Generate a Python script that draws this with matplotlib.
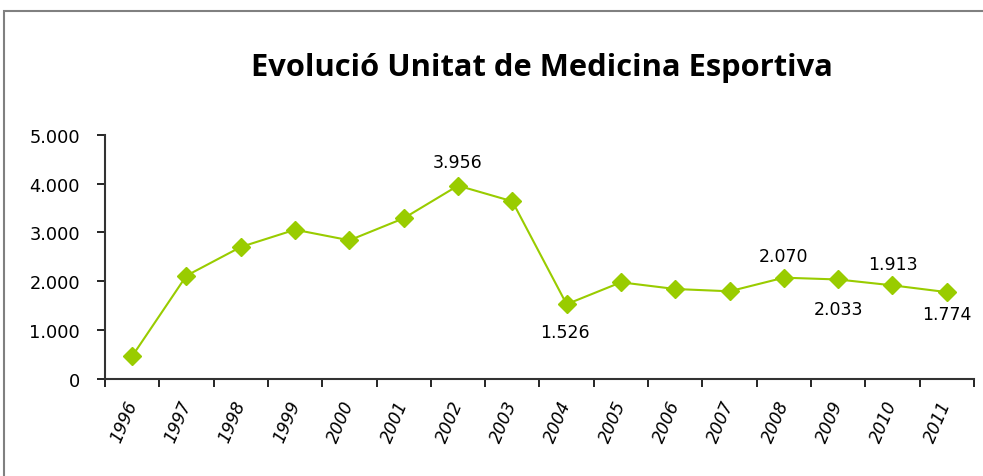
import matplotlib.pyplot as plt
from matplotlib.patches import Rectangle
from matplotlib.ticker import FuncFormatter
import numpy as np

# DATA
years = ['1996', '1997', '1998', '1999', '2000', '2001', '2002', '2003',
         '2004', '2005', '2006', '2007', '2008', '2009', '2010', '2011']
values = [460, 2111, 2699, 3053, 2836, 3287, 3956, 3635,
          1526, 1975, 1838, 1791, 2070, 2033, 1913, 1774]
# points that carry a value label
labelled = ['2002', '2004', '2008', '2009', '2010', '2011']

GREEN = '#99cc00'


def dotted(v, pos=None):
    return f'{int(v):,}'.replace(',', '.')


fig = plt.figure(figsize=(9.83, 4.77), dpi=100)
fig.add_artist(Rectangle((4 / 983, -0.1), 1.1, 1 - 12 / 477 + 0.1,
                         transform=fig.transFigure, fill=False,
                         edgecolor='#808080', linewidth=1.5))

ax = fig.add_axes([0.1068, 0.204, 0.884, 0.5115])
x = np.arange(len(years))
ax.plot(x, values, color=GREEN, linewidth=1.5, marker='D',
        markersize=9, markeredgecolor=GREEN, zorder=3)

# label offsets in points (+ above, - below)
offsets = {'2002': 17, '2004': -20, '2008': 15.5, '2009': -21.5,
           '2010': 15.5, '2011': -16}
for i, (yr, v) in enumerate(zip(years, values)):
    if yr in labelled:
        ax.annotate(dotted(v), (i, v), xytext=(-1 if yr == '2004' else 0, offsets[yr]),
                    textcoords='offset points', ha='center', va='center',
                    fontsize=12.5, family='DejaVu Sans', color='black')

ax.set_xlim(-0.5, len(years) - 0.5)
ax.set_ylim(0, 5000)
ax.set_yticks(np.arange(0, 5001, 1000))
ax.yaxis.set_major_formatter(FuncFormatter(dotted))
ax.set_xticks(x)
ax.set_xticklabels(years, rotation=67, ha='right', va='center',
                   rotation_mode='anchor', fontstyle='italic', fontsize=12.3)
ax.set_xticks(np.arange(-0.5, len(years), 1), minor=True)
ax.tick_params(axis='x', which='major', length=0, pad=16)
ax.tick_params(axis='x', which='minor', length=6, width=1.2, direction='out')
ax.tick_params(axis='y', length=6, width=1.2, direction='out',
               labelsize=12.8, pad=12)

for s in ['top', 'right']:
    ax.spines[s].set_visible(False)
for s in ['left', 'bottom']:
    ax.spines[s].set_linewidth(1.5)
    ax.spines[s].set_color('#333333')

fig.text(0.551, 0.857, 'Evolució Unitat de Medicina Esportiva', ha='center',
         va='center', fontsize=22.2, fontweight='bold', family='Open Sans')

fig.savefig('out.png', dpi=100)
